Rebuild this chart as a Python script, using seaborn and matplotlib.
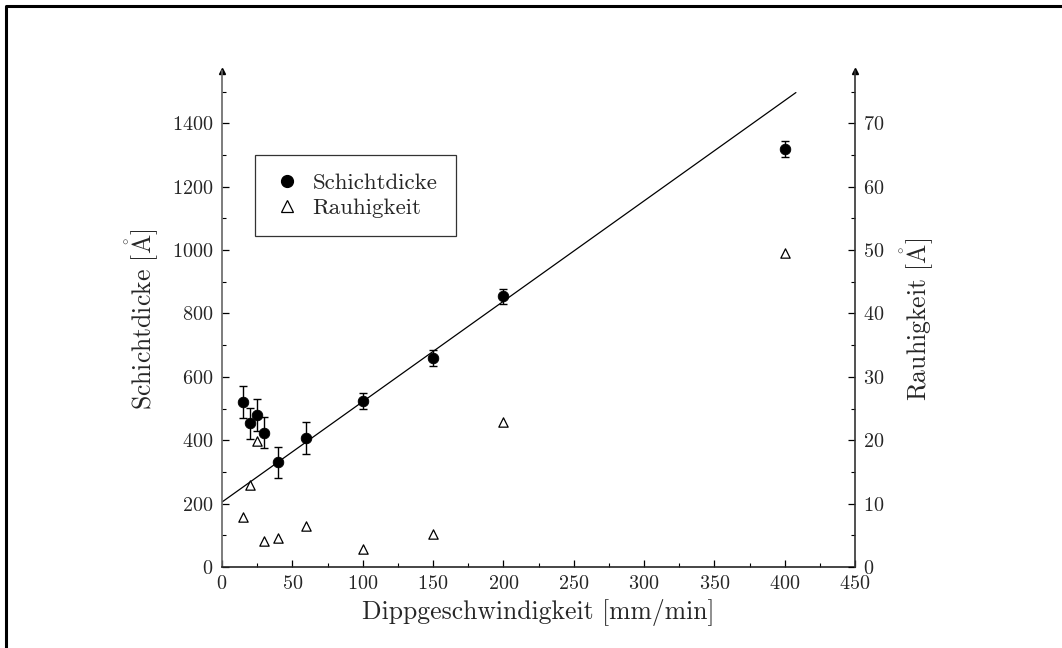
import matplotlib
matplotlib.use("Agg")
import matplotlib.pyplot as plt
import matplotlib.lines as mlines
from matplotlib.ticker import MultipleLocator
import numpy as np
import pandas as pd
import seaborn as sns

# ---- data ----
speed = [15, 20, 25, 30, 40, 60, 100, 150, 200, 400]
thickness = [520, 453, 479, 424, 330, 406, 523, 659, 854, 1320]
thickness_err = [50, 48, 50, 49, 50, 50, 25, 25, 24, 25]
roughness = [7.9, 12.9, 19.9, 4.1, 4.6, 6.5, 2.8, 5.2, 22.8, 49.5]
fit_x = [0, 408]
fit_y = [205, 1497]

sns.set_style("ticks")
plt.rcParams.update({
    "font.family": ["cmr10", "DejaVu Serif"],
    "mathtext.fontset": "cm",
    "axes.formatter.use_mathtext": True,
    "axes.unicode_minus": False,
})

fig = plt.figure(figsize=(10.62, 6.48), dpi=100)
ax = fig.add_axes([222 / 1062, 1 - 567 / 648, (855 - 222) / 1062, (567 - 71) / 648])
ax2 = ax.twinx()

df = pd.DataFrame({"speed": speed, "thickness": thickness, "roughness": roughness})

# fit line
sns.lineplot(x=fit_x, y=fit_y, ax=ax, color="black", lw=0.9, zorder=2)
# error bars
ax.errorbar(speed, thickness, yerr=thickness_err, fmt="none", ecolor="black",
            elinewidth=1.0, capsize=3, capthick=1.0, zorder=3)
sns.scatterplot(data=df, x="speed", y="thickness", ax=ax, marker="o", s=58,
                color="black", edgecolor="black", zorder=4)
sns.scatterplot(data=df, x="speed", y="roughness", ax=ax2, marker="^", s=45,
                facecolor="white", edgecolor="black", linewidth=0.9, zorder=4)

ax.set_xlim(0, 450)
ax.set_ylim(0, 1565)
ax2.set_ylim(0, 1565 / 20)

ax.xaxis.set_major_locator(MultipleLocator(50))
ax.xaxis.set_minor_locator(MultipleLocator(25))
ax.yaxis.set_major_locator(MultipleLocator(200))
ax.yaxis.set_minor_locator(MultipleLocator(100))
ax2.yaxis.set_major_locator(MultipleLocator(10))
ax2.yaxis.set_minor_locator(MultipleLocator(5))
ax.set_yticks([0, 200, 400, 600, 800, 1000, 1200, 1400])
ax2.set_yticks([0, 10, 20, 30, 40, 50, 60, 70])

for a in (ax, ax2):
    a.tick_params(which="both", direction="in", labelsize=14.5, color="black")
    a.tick_params(which="major", length=5, width=0.9)
    a.tick_params(which="minor", length=3, width=0.8)
    a.spines["top"].set_visible(False)
ax.spines["right"].set_visible(False)
ax2.spines["left"].set_visible(False)
ax2.spines["bottom"].set_visible(False)
ax.spines["left"].set_color("#666666")
ax2.spines["right"].set_color("#333333")
for s in ("left", "bottom"):
    ax.spines[s].set_linewidth(1.2)
ax2.spines["right"].set_linewidth(1.2)
ax.tick_params(axis="y", pad=6)
ax2.tick_params(axis="y", pad=6)
ax.tick_params(axis="x", pad=6)

# arrows at tops of the vertical axes
ax.plot([0, 1], [1, 1], transform=ax.transAxes, ls="none", marker="^",
        ms=5, color="black", clip_on=False)

ax.set_xlabel("Dippgeschwindigkeit [mm/min]", fontsize=18.5, labelpad=4)
ax.set_ylabel(r"Schichtdicke [$\mathring{\mathrm{A}}$]", fontsize=18.5, labelpad=8)
ax2.set_ylabel(r"Rauhigkeit [$\mathring{\mathrm{A}}$]", fontsize=18.5, labelpad=10)

h1 = mlines.Line2D([], [], ls="none", marker="o", ms=8.5, color="black")
h2 = mlines.Line2D([], [], ls="none", marker="^", ms=8.5, markerfacecolor="white",
                   markeredgecolor="black", markeredgewidth=0.9)
leg = ax.legend([h1, h2], ["Schichtdicke", "Rauhigkeit"], loc="upper left",
                bbox_to_anchor=((255 - 222) / 633, (567 - 155) / 496),
                fontsize=16.5, frameon=True, fancybox=False, edgecolor="black",
                borderpad=0.8, handletextpad=0.5, labelspacing=0.2,
                borderaxespad=0, handlelength=1.2)
leg.get_frame().set_linewidth(0.9)

# outer frame (top and left edges)
fig.add_artist(mlines.Line2D([6 / 1062, 6 / 1062, 1.0], [0.0, 1 - 6 / 648, 1 - 6 / 648],
                             transform=fig.transFigure, color="black", lw=2.2))

fig.savefig("out.png", dpi=100)
